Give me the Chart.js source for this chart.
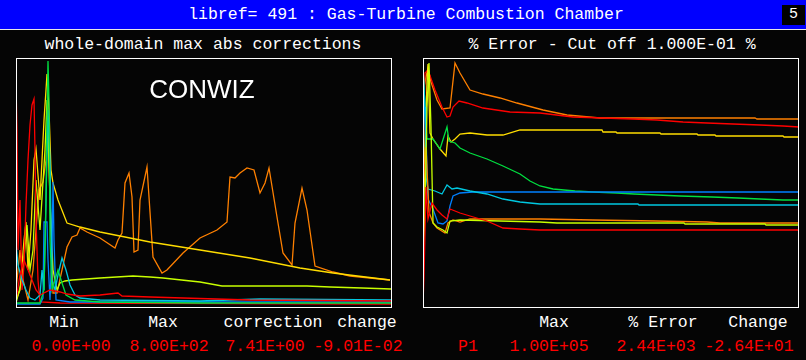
<!DOCTYPE html>
<html><head><meta charset="utf-8">
<script src="https://cdn.jsdelivr.net/npm/chart.js@4"></script>
<style>
html,body{margin:0;padding:0;background:#050505;}
#wrap{position:relative;width:806px;height:360px;overflow:hidden;background:#050505;font-family:'Liberation Mono','DejaVu Sans Mono',monospace;}
.t{position:absolute;white-space:pre;transform:translate(-50%,-50%);font-size:16.5px;line-height:18px;color:#fff;}
.r{color:#ff0000;}
#hdr{position:absolute;left:0;top:0;width:806px;height:29px;background:#0000ff;}
#hl{position:absolute;left:0;top:29px;width:806px;height:1px;background:#e8e8e8;}
#box5{position:absolute;left:782px;top:5px;width:23px;height:20px;background:#000;color:#fff;font-size:15px;line-height:20px;text-align:center;}
.cv{position:absolute;}
.frame{position:absolute;box-sizing:border-box;border:1px solid #fff;pointer-events:none;}
#conwiz{position:absolute;left:202px;top:89px;transform:translate(-50%,-50%);font-family:'Liberation Sans',Arial,sans-serif;font-size:26px;color:#fff;white-space:pre;}
</style></head>
<body><div id="wrap">
<div id="hdr"></div><div id="hl"></div>
<div class="t" style="left:406px;top:15px;">libref= 491 : Gas-Turbine Combustion Chamber</div>
<div id="box5">5</div>
<div class="t" style="left:203px;top:45px;">whole-domain max abs corrections</div>
<div class="t" style="left:612px;top:45px;">% Error - Cut off 1.000E-01 %</div>
<canvas id="cl" class="cv" width="375" height="249" style="left:16px;top:58px;width:375px;height:249px;"></canvas>
<canvas id="cr" class="cv" width="376" height="249" style="left:423px;top:58px;width:376px;height:249px;"></canvas>
<div class="frame" style="left:16px;top:58px;width:376px;height:250px;"></div>
<div class="frame" style="left:423px;top:58px;width:376px;height:250px;"></div>
<div id="conwiz">CONWIZ</div>
<div class="t" style="left:64px;top:323px;">Min</div>
<div class="t" style="left:163px;top:323px;">Max</div>
<div class="t" style="left:273px;top:323px;">correction</div>
<div class="t" style="left:367px;top:323px;">change</div>
<div class="t" style="left:554px;top:323px;">Max</div>
<div class="t" style="left:663px;top:323px;">% Error</div>
<div class="t" style="left:758px;top:323px;">Change</div>
<div class="t r" style="left:71px;top:347px;">0.00E+00</div>
<div class="t r" style="left:169px;top:347px;">8.00E+02</div>
<div class="t r" style="left:265px;top:347px;">7.41E+00</div>
<div class="t r" style="left:358px;top:347px;">-9.01E-02</div>
<div class="t r" style="left:468px;top:347px;">P1</div>
<div class="t r" style="left:549px;top:347px;">1.00E+05</div>
<div class="t r" style="left:656px;top:347px;">2.44E+03</div>
<div class="t r" style="left:749px;top:347px;">-2.64E+01</div>
</div>
<script>
// ---- left panel: whole-domain max abs corrections (iteration, relative value) ----
const L_red1 = [[0,224],[1,177],[2,57],[4,107],[6,17],[8,42],[10,102],[12,147],[14,182],[16,202],[18,208],[19,157],[20,87],[22,27],[24,5],[44,4],[375,3]];
const L_red2 = [[0,7],[4,32],[8,47],[12,37],[16,27],[20,17],[24,12],[34,17],[44,15],[51,13],[64,11],[84,12],[102,14],[106,11],[134,10],[167,9],[234,7],[375,6]];
const L_green = [[0,4],[24,4],[28,17],[30,107],[31,187],[32,246],[33,207],[34,67],[36,17],[39,27],[42,37],[46,24],[50,12],[59,7],[84,5],[184,4],[284,4],[375,4]];
const L_cyan = [[0,64],[2,42],[6,27],[10,17],[14,9],[19,7],[24,12],[26,37],[28,17],[30,107],[32,197],[34,147],[36,27],[39,17],[42,32],[46,49],[50,37],[54,22],[59,12],[64,9],[84,7],[184,6],[244,8],[375,7]];
const L_blue = [[0,3],[24,3],[27,9],[28,85],[31,85],[32,47],[34,7],[36,57],[37,125],[38,67],[40,7],[54,5],[134,5],[375,5]];
const L_lime = [[0,4],[6,27],[11,82],[14,37],[17,57],[20,127],[24,77],[29,157],[31,207],[34,107],[37,37],[41,17],[44,24],[49,26],[56,27],[84,29],[117,31],[134,30],[147,29],[184,25],[206,21],[291,21],[314,20],[346,19],[375,18]];
const L_yellow = [[0,7],[4,17],[8,67],[10,85],[12,37],[15,77],[18,147],[20,158],[22,132],[24,107],[26,147],[28,187],[30,217],[31,233],[33,197],[35,137],[37,124],[42,107],[51,84],[64,80],[84,75],[104,71],[134,65],[184,57],[234,49],[284,39],[317,34],[374,27]];
const L_orange = [[0,17],[4,57],[7,27],[12,7],[17,37],[23,117],[27,125],[30,147],[32,187],[34,107],[37,14],[41,14],[46,37],[51,60],[56,70],[61,72],[64,79],[71,75],[84,69],[99,59],[102,67],[106,74],[109,124],[113,134],[116,110],[118,55],[122,57],[124,107],[131,140],[134,95],[137,50],[146,34],[151,37],[167,54],[184,69],[201,77],[211,85],[214,130],[219,129],[224,134],[231,139],[238,137],[244,114],[249,124],[253,139],[261,90],[267,54],[276,42],[279,84],[286,119],[291,97],[299,41],[317,35],[334,31],[374,27]];

// ---- right panel: % error history ----
const R_red2 = [[0,3],[1,30],[3,120],[5,88],[9,104],[14,97],[19,92],[24,88],[27,98],[37,94],[47,91],[64,86],[80,79],[97,78],[117,77],[376,77]];
const R_lime = [[0,30],[2,100],[4,200],[6,244],[8,180],[10,84],[14,80],[20,77],[24,74],[27,86],[37,87],[117,85],[134,84],[261,84],[262,83],[342,83],[343,82],[376,82]];
const R_orange2 = [[0,120],[3,160],[6,95],[10,84],[14,79],[22,74],[25,84],[30,87],[37,85],[47,88],[117,88],[170,87],[233,86],[284,85],[297,84],[376,84]];
const R_cyan = [[0,240],[2,200],[3,130],[5,118],[12,116],[19,113],[24,122],[29,118],[34,119],[47,116],[64,113],[80,108],[97,105],[117,103],[215,103],[216,102],[376,102]];
const R_blue = [[1,210],[3,170],[5,108],[7,104],[10,98],[15,84],[20,83],[24,86],[27,101],[30,111],[37,114],[50,115],[376,115]];
const R_green = [[0,240],[2,200],[4,168],[10,168],[17,158],[24,180],[26,166],[32,164],[37,159],[47,154],[64,148],[80,141],[97,133],[107,126],[117,121],[130,118],[152,116],[170,115],[194,114],[211,113],[234,112],[257,111],[289,110],[315,109],[337,108],[360,107],[376,107]];
const R_yellow = [[0,60],[2,160],[4,225],[5,243],[7,174],[10,168],[17,158],[23,151],[25,171],[28,165],[32,168],[37,173],[47,174],[64,172],[80,172],[97,177],[117,177],[179,177],[180,175],[193,175],[194,174],[237,174],[238,173],[274,173],[275,172],[292,172],[293,171],[360,171],[361,170],[376,170]];
const R_red = [[0,20],[1,200],[2,234],[5,237],[12,217],[19,200],[24,190],[27,191],[30,200],[36,206],[44,204],[60,199],[87,195],[117,194],[150,190],[210,188],[234,187],[260,185],[284,184],[310,183],[337,182],[360,181],[376,180]];
const R_orange = [[0,150],[1,220],[3,230],[5,239],[8,225],[14,207],[19,198],[27,199],[29,217],[32,244],[37,234],[47,217],[60,213],[77,209],[94,204],[120,197],[144,192],[177,189],[244,189],[332,189],[334,188],[376,188]];

const C = {red:'#ff0000',orange:'#ff8000',yellow:'#ffdd00',lime:'#c8ff00',green:'#00e040',cyan:'#00c8e0',blue:'#0080ff'};

function ds(arr,col){return {data:arr.map(p=>({x:p[0],y:p[1]})),borderColor:col,borderWidth:1.3,pointRadius:0,tension:0,fill:false};}
function mk(id,xmax,sets){
  new Chart(document.getElementById(id),{type:'line',data:{datasets:sets},
    options:{responsive:false,animation:false,events:[],layout:{padding:0},
      plugins:{legend:{display:false},tooltip:{enabled:false}},
      scales:{x:{type:'linear',min:0,max:xmax,display:false},y:{type:'linear',min:0,max:249,display:false}}}});
}
mk('cl',375,[ds(L_red2,C.red),ds(L_green,C.green),ds(L_cyan,C.cyan),ds(L_blue,C.blue),ds(L_red1,C.red),ds(L_lime,C.lime),ds(L_yellow,C.yellow),ds(L_orange,C.orange)]);
mk('cr',376,[ds(R_red2,C.red),ds(R_lime,C.lime),ds(R_orange2,C.orange),ds(R_cyan,C.cyan),ds(R_blue,C.blue),ds(R_green,C.green),ds(R_yellow,C.yellow),ds(R_red,C.red),ds(R_orange,C.orange)]);
</script>
</body></html>
